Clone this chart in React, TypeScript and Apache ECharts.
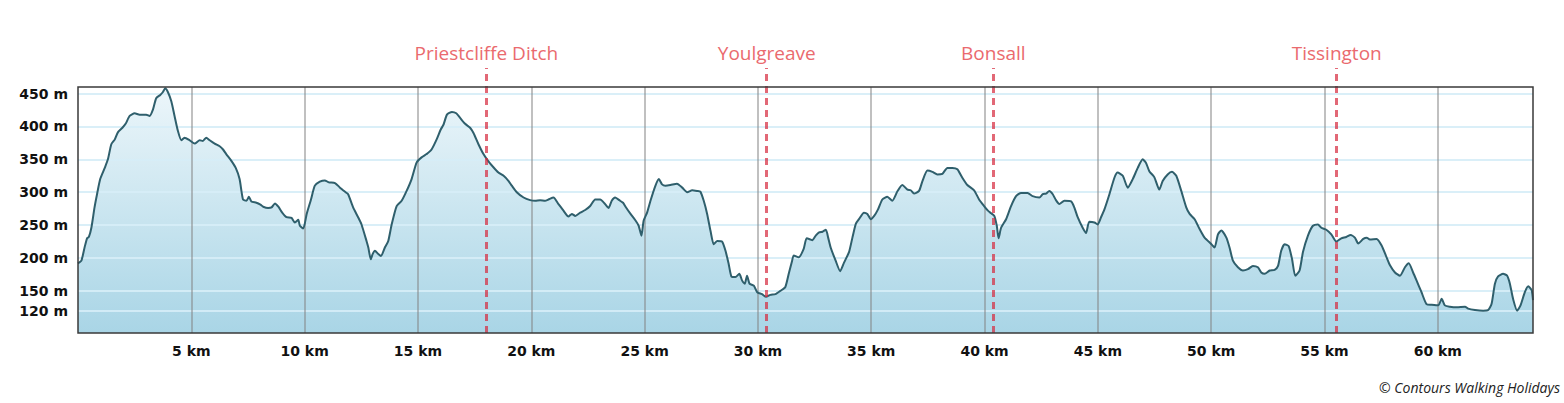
import React, { useEffect, useRef } from "react";
import * as echarts from "echarts";

const distanceKm = [
  0.0, 0.15, 0.29, 0.4, 0.48, 0.59, 0.73, 0.84, 0.98, 1.18, 1.32, 1.47, 1.62, 1.76, 1.96, 2.1, 2.28, 2.5, 2.72, 3.01,
  3.16, 3.31, 3.45, 3.63, 3.74, 3.85, 3.97, 4.12, 4.26, 4.41, 4.56, 4.7, 4.93, 5.15, 5.37, 5.51, 5.66, 5.81, 6.03, 6.25,
  6.4, 6.54, 6.76, 6.96, 7.13, 7.28, 7.43, 7.54, 7.65, 7.87, 8.05, 8.17, 8.39, 8.54, 8.69, 8.84, 9.01, 9.2, 9.42, 9.57,
  9.72, 9.79, 9.94, 10.09, 10.28, 10.45, 10.67, 10.89, 11.07, 11.34, 11.56, 11.81, 11.92, 12.14, 12.36, 12.51, 12.73, 12.81, 12.92, 13.0,
  13.1, 13.25, 13.37, 13.54, 13.69, 13.84, 14.06, 14.28, 14.5, 14.72, 14.94, 15.16, 15.38, 15.6, 15.82, 16.0, 16.13, 16.28, 16.5, 16.69,
  16.86, 17.08, 17.3, 17.45, 17.67, 17.89, 18.11, 18.33, 18.55, 18.78, 19.0, 19.14, 19.36, 19.66, 19.95, 20.17, 20.39, 20.61, 20.76, 20.98,
  21.2, 21.42, 21.64, 21.79, 21.94, 22.16, 22.38, 22.6, 22.82, 23.04, 23.26, 23.41, 23.55, 23.7, 23.92, 24.05, 24.16, 24.38, 24.6, 24.74,
  24.86, 24.96, 25.11, 25.26, 25.48, 25.63, 25.77, 25.92, 26.14, 26.43, 26.66, 26.88, 27.1, 27.32, 27.46, 27.61, 27.76, 27.91, 28.05, 28.2,
  28.42, 28.57, 28.71, 28.83, 29.01, 29.18, 29.3, 29.42, 29.52, 29.63, 29.82, 29.97, 30.18, 30.36, 30.55, 30.77, 30.99, 31.21, 31.36, 31.51,
  31.58, 31.8, 32.02, 32.15, 32.33, 32.4, 32.55, 32.7, 32.85, 33.0, 33.1, 33.21, 33.43, 33.63, 33.8, 34.02, 34.17, 34.32, 34.46, 34.68,
  34.83, 34.98, 35.13, 35.3, 35.49, 35.71, 35.93, 36.15, 36.37, 36.6, 36.74, 36.89, 37.11, 37.26, 37.48, 37.7, 37.92, 38.14, 38.36, 38.58,
  38.8, 39.02, 39.24, 39.54, 39.76, 39.98, 40.15, 40.29, 40.43, 40.54, 40.62, 40.73, 40.95, 41.17, 41.39, 41.61, 41.9, 42.12, 42.42, 42.57,
  42.71, 42.86, 43.01, 43.15, 43.3, 43.52, 43.82, 43.96, 44.11, 44.33, 44.48, 44.62, 44.85, 44.99, 45.14, 45.29, 45.51, 45.73, 45.87, 46.1,
  46.32, 46.54, 46.76, 46.98, 47.12, 47.27, 47.49, 47.71, 47.86, 48.08, 48.27, 48.46, 48.68, 48.9, 49.05, 49.27, 49.49, 49.71, 50.01, 50.15,
  50.3, 50.45, 50.67, 50.81, 50.96, 51.18, 51.4, 51.62, 51.84, 52.06, 52.21, 52.36, 52.58, 52.8, 52.95, 53.09, 53.24, 53.42, 53.57, 53.71,
  53.9, 54.05, 54.27, 54.49, 54.71, 54.86, 55.08, 55.3, 55.52, 55.74, 55.96, 56.15, 56.34, 56.49, 56.71, 56.86, 57.0, 57.3, 57.52, 57.74,
  57.89, 58.11, 58.33, 58.55, 58.72, 58.91, 59.06, 59.28, 59.5, 59.72, 60.02, 60.17, 60.31, 60.53, 60.83, 61.2, 61.34, 61.64, 62.0, 62.22,
  62.37, 62.52, 62.66, 62.88, 63.06, 63.18, 63.32, 63.5, 63.65, 63.84, 63.99, 64.14, 64.2,
];

const elevationM = [
  192, 196, 216, 230, 232, 246, 277, 297, 320, 337, 350, 373, 380, 391, 398, 404, 416, 420, 418, 418,
  416, 426, 443, 448, 452, 458, 452, 438, 416, 393, 379, 383, 379, 374, 379, 378, 383, 379, 374, 370,
  365, 358, 348, 337, 320, 289, 287, 293, 286, 284, 281, 278, 276, 277, 283, 278, 269, 262, 261, 254,
  258, 249, 245, 267, 289, 310, 316, 318, 315, 314, 307, 300, 297, 277, 262, 251, 226, 216, 198, 206,
  211, 206, 203, 216, 226, 251, 279, 287, 302, 320, 345, 353, 358, 365, 380, 395, 403, 418, 422, 420,
  413, 404, 398, 390, 373, 358, 347, 338, 330, 325, 317, 310, 300, 292, 288, 287, 288, 287, 289, 292,
  282, 272, 263, 267, 264, 269, 273, 279, 289, 289, 282, 276, 287, 292, 287, 284, 278, 267, 257, 249,
  234, 257, 269, 287, 310, 320, 312, 310, 311, 313, 307, 300, 303, 302, 301, 287, 267, 241, 221, 226,
  225, 211, 191, 172, 171, 176, 166, 161, 173, 161, 158, 148, 145, 141, 144, 145, 150, 156, 176, 196,
  204, 201, 214, 230, 228, 227, 234, 239, 240, 243, 231, 216, 196, 180, 193, 209, 231, 252, 259, 269,
  267, 259, 264, 274, 289, 293, 287, 301, 311, 304, 303, 298, 302, 317, 333, 331, 327, 328, 337, 337,
  335, 322, 311, 303, 289, 279, 272, 268, 264, 249, 230, 246, 259, 279, 294, 299, 299, 294, 292, 297,
  298, 302, 297, 288, 282, 287, 286, 277, 262, 246, 238, 255, 254, 251, 262, 274, 297, 322, 330, 325,
  307, 320, 337, 350, 345, 332, 323, 304, 317, 327, 331, 325, 302, 277, 267, 259, 244, 231, 221, 216,
  236, 242, 231, 216, 196, 186, 181, 183, 188, 186, 178, 176, 181, 182, 188, 211, 221, 218, 198, 173,
  181, 209, 234, 249, 251, 246, 243, 236, 225, 230, 232, 235, 231, 222, 229, 231, 228, 229, 219, 201,
  189, 178, 173, 186, 192, 178, 166, 148, 130, 129, 128, 138, 128, 126, 125, 126, 123, 121, 120, 121,
  130, 161, 172, 176, 173, 161, 138, 120, 128, 148, 157, 151, 136,
];

const yTickValues = [120, 150, 200, 250, 300, 350, 400, 450];
const xTickValues = [5, 10, 15, 20, 25, 30, 35, 40, 45, 50, 55, 60];
const waypointNames = ["Priestcliffe Ditch", "Youlgreave", "Bonsall", "Tissington"];
const waypointKm = [18.02, 30.39, 40.39, 55.54];
const copyrightText = "© Contours Walking Holidays";

const X_MAX = 64.2;
const Y_MIN = 86;
const Y_MAX = 460;

export default function App() {
  const ref = useRef<HTMLDivElement>(null);

  useEffect(() => {
    document.body.style.margin = "0";
    const chart = echarts.init(ref.current as HTMLDivElement, null, { renderer: "svg" });
    const profile = distanceKm.map((d, i) => [d, elevationM[i]]);
    const axisFont = {
      fontFamily: "DejaVu Sans",
      fontWeight: "bold" as const,
      fontSize: 14,
      color: "#111",
    };

    const option: any = {
      animation: false,
      backgroundColor: "#fff",
      grid: [
        {
          left: 78,
          top: 87,
          width: 1455,
          height: 246,
          show: true,
          z: 10,
          borderColor: "#3a3a3a",
          borderWidth: 1.5,
          backgroundColor: "transparent",
        },
        { left: 78, top: 68, width: 1455, height: 265, show: false },
      ],
      xAxis: [
        {
          type: "value",
          gridIndex: 0,
          min: 0,
          max: X_MAX,
          interval: 5,
          axisLine: { show: false },
          axisTick: { show: false },
          splitLine: { show: false },
          axisLabel: {
            ...axisFont,
            margin: 11,
            showMaxLabel: false,
            formatter: (v: number) => (v > 0 && v % 5 === 0 ? `${v} km` : ""),
          },
        },
        { type: "value", gridIndex: 1, min: 0, max: X_MAX, show: false },
      ],
      yAxis: [
        {
          type: "value",
          gridIndex: 0,
          min: Y_MIN,
          max: Y_MAX,
          axisLine: { show: false },
          axisTick: { show: false, customValues: yTickValues },
          splitLine: { show: false },
          axisLabel: {
            ...axisFont,
            margin: 10,
            customValues: yTickValues,
            formatter: (v: number) => `${v} m`,
          },
        },
        { type: "value", gridIndex: 1, min: 0, max: 1, show: false },
      ],
      series: [
        {
          name: "fill",
          type: "line",
          xAxisIndex: 0,
          yAxisIndex: 0,
          data: profile,
          z: 1,
          smooth: 0.2,
          showSymbol: false,
          silent: true,
          lineStyle: { width: 0, opacity: 0 },
          areaStyle: {
            origin: "start",
            opacity: 1,
            color: new echarts.graphic.LinearGradient(0, 0, 0, 1, [
              { offset: 0, color: "#ecf6fa" },
              { offset: 1, color: "#a9d5e6" },
            ]),
          },
        },
        {
          name: "gridlines",
          type: "line",
          xAxisIndex: 0,
          yAxisIndex: 0,
          data: profile,
          z: 2,
          showSymbol: false,
          silent: true,
          lineStyle: { width: 0, opacity: 0 },
          markLine: {
            silent: true,
            symbol: "none",
            z: 2,
            animation: false,
            label: { show: false },
            emphasis: { disabled: true },
            data: [
              ...yTickValues.map((v) => ({
                yAxis: v,
                lineStyle: { color: "rgba(214,237,247,0.9)", width: 2, type: "solid" },
              })),
              ...xTickValues.map((v) => ({
                xAxis: v,
                lineStyle: { color: "rgba(130,130,130,0.5)", width: 2, type: "solid" },
              })),
            ],
          },
        },
        {
          name: "profile",
          type: "line",
          xAxisIndex: 0,
          yAxisIndex: 0,
          data: profile,
          z: 3,
          smooth: 0.2,
          showSymbol: false,
          silent: true,
          lineStyle: { color: "#2f5f6c", width: 2 },
        },
        {
          name: "waypoints",
          type: "line",
          xAxisIndex: 1,
          yAxisIndex: 1,
          data: [[0, 0]],
          z: 4,
          showSymbol: false,
          silent: true,
          lineStyle: { width: 0, opacity: 0 },
          markLine: {
            silent: true,
            symbol: "none",
            z: 4,
            animation: false,
            emphasis: { disabled: true },
            lineStyle: { color: "rgba(214,40,60,0.7)", width: 3, type: [7, 5] },
            label: {
              show: true,
              position: "end",
              distance: 6,
              formatter: "{b}",
              color: "#ea6a6e",
              fontFamily: "Open Sans",
              fontSize: 19,
            },
            data: waypointNames.map((n, i) => ({ name: n, xAxis: waypointKm[i] })),
          },
        },
      ],
      graphic: [
        {
          type: "text",
          right: 4,
          top: 380,
          style: {
            text: copyrightText,
            font: "italic 14px 'Open Sans'",
            fill: "#222",
          },
        },
      ],
    };

    chart.setOption(option);
    return () => chart.dispose();
  }, []);

  return (
    <div
      ref={ref}
      style={{ position: "fixed", left: 0, top: 0, width: 1564, height: 403, background: "#fff" }}
    />
  );
}
